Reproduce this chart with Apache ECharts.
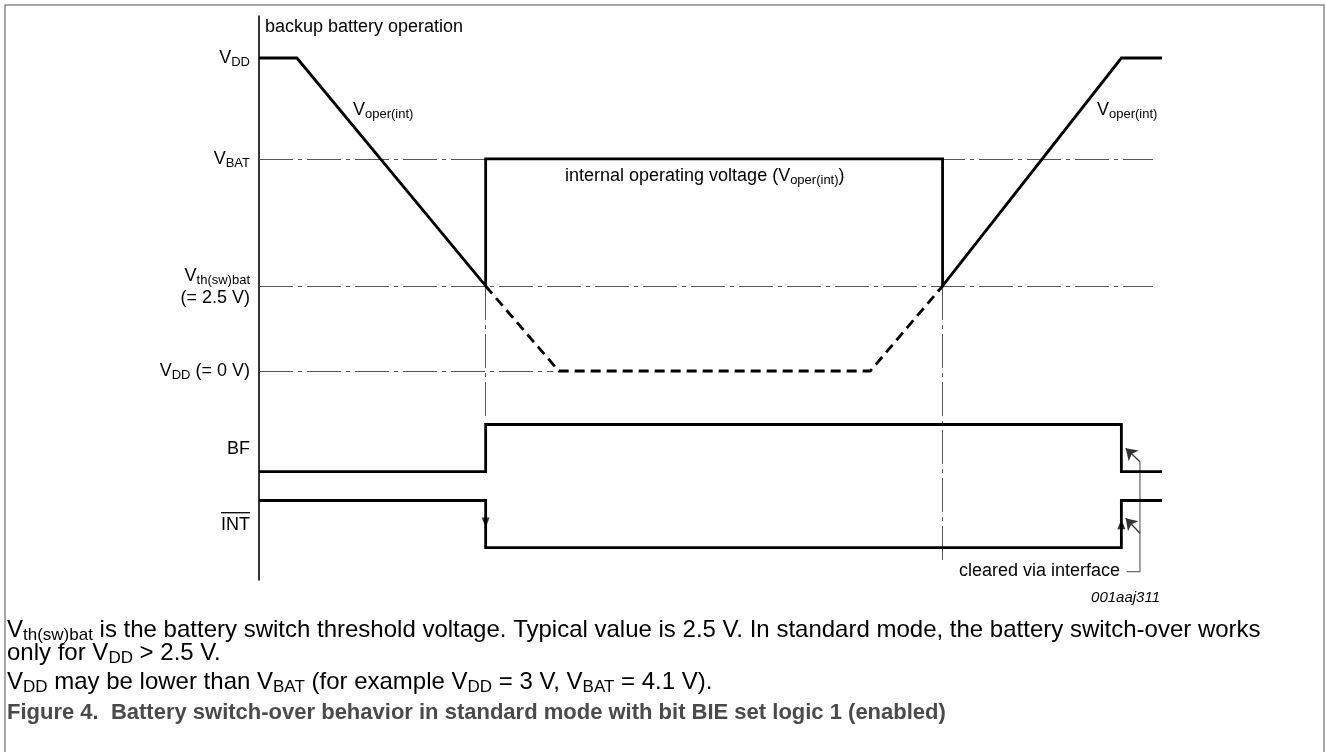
<!DOCTYPE html>
<html><head><meta charset="utf-8">
<script src="https://cdn.jsdelivr.net/npm/echarts@6/dist/echarts.min.js"></script>
<style>html,body{margin:0;padding:0;background:#fff}#c{width:1326px;height:752px}</style>
</head><body><div id="c"></div>
<script>
// ---------------- data ----------------
// y-axis tick labels (level positions in schematic level units 0..100)
const labelLevels = [92.55, 74.65, 52.0, 37.06, 23.3, 9.98];
const labelTexts = ['{v|V}{s|DD}', '{v|V}{s|BAT}', '{v|V}{s|th(sw)bat}\n{v|(= 2.5 V)}', '{v|V}{s|DD}{v| (= 0 V)}', '{v|BF}', '{ol|}\n{v|INT}'];
// internal operating voltage V_oper(int) (solid)
const operTime  = [0, 4.2, 25.1, 25.1, 75.7, 75.7, 95.5, 100];
const operLevel = [92.55, 92.55, 52.13, 74.65, 74.65, 52.13, 92.55, 92.55];
// V_DD below threshold (dashed)
const vddTime  = [25.1, 33.2, 67.7, 75.7];
const vddLevel = [52.13, 37.06, 37.06, 52.13];
// BF flag
const bfTime  = [0, 25.1, 25.1, 95.5, 95.5, 100];
const bfLevel = [19.2, 19.2, 27.57, 27.57, 19.2, 19.2];
// INT (active low)
const intTime  = [0, 25.1, 25.1, 95.5, 95.5, 100];
const intLevel = [14.1, 14.1, 5.73, 5.73, 14.1, 14.1];
// dash-dot reference lines
const refHLevel = [74.65, 52.13, 37.06];
const refHEnd   = [99.0, 99.0, 32.6];
const refVTime  = [25.1, 75.7];
const refVEnd   = [28.7, 3.55];
// edge arrows on INT
const edgeArrowTime  = [25.1, 95.5];
const edgeArrowLevel = [10.2, 9.9];
const edgeArrowRot   = [180, 0];
// "cleared via interface" leader
const leaderTime  = [96.1, 97.56, 97.56];
const leaderLevel = [1.47, 1.47, 20.97];
const pointerFromTime = [97.56, 97.56];
const pointerFromLevel = [20.97, 8.28];
const pointerToTime = [95.98, 95.98];
const pointerToLevel = [23.35, 10.94];

// ---------------- chart ----------------
const F = '"Liberation Sans", Arial, Helvetica, sans-serif';
const zip = (a, b) => a.map((x, i) => [x, b[i]]);
const chart = echarts.init(document.getElementById('c'), null, {renderer: 'canvas'});

function gRich(size, sub, color, weight) {
  return {
    n: {fill: color, fontSize: size, fontFamily: F, lineHeight: size + 4, fontWeight: weight},
    s: {fill: color, fontSize: sub, fontFamily: F, lineHeight: Math.round(sub * 0.92), verticalAlign: 'bottom', fontWeight: weight}
  };
}
function gText(x, y, text, opts) {
  opts = opts || {};
  const size = opts.size || 18, sub = opts.sub || 13;
  return {
    type: 'text', x: x, y: y, scaleX: opts.scaleX || 1, silent: true,
    style: {
      text: text, align: opts.align || 'left', verticalAlign: 'middle',
      fill: opts.color || '#000', fontSize: size, fontFamily: F,
      fontStyle: opts.italic ? 'italic' : 'normal', fontWeight: opts.weight || 'normal',
      rich: gRich(size, sub, opts.color || '#000', opts.weight || 'normal')
    }
  };
}

const option = {
  animation: false,
  backgroundColor: '#fff',
  grid: {left: 259, top: 16, right: 164, bottom: 172, containLabel: false},
  xAxis: {type: 'value', min: 0, max: 100, show: false},
  yAxis: {
    type: 'value', min: 0, max: 100,
    splitLine: {show: false}, axisTick: {show: false},
    axisLine: {show: true, onZero: false, lineStyle: {color: '#000', width: 1.6}},
    axisLabel: {
      customValues: labelLevels, margin: 9, color: '#000', fontFamily: F, fontSize: 18,
      formatter: function (v) { const i = labelLevels.indexOf(v); return i >= 0 ? labelTexts[i] : ''; },
      rich: {
        v: {color: '#000', fontSize: 18, fontFamily: F, lineHeight: 22},
        s: {color: '#000', fontSize: 13, fontFamily: F, lineHeight: 12, verticalAlign: 'bottom'},
        ol: {width: 29, height: 1.3, lineHeight: 2, backgroundColor: '#000'}
      }
    }
  },
  series: [
    {
      type: 'lines', coordinateSystem: 'cartesian2d', z: 1, silent: true,
      lineStyle: {color: '#555', width: 1, type: [34, 5, 4, 5], opacity: 1},
      data: refHLevel.map((y, i) => ({coords: [[0, y], [refHEnd[i], y]]}))
        .concat(refVTime.map((x, i) => ({coords: [[x, refHLevel[1]], [x, refVEnd[i]]]})))
    },
    {
      type: 'line', z: 3, silent: true, symbol: 'none', data: zip(vddTime, vddLevel),
      lineStyle: {color: '#000', width: 2.8, type: [10, 6], cap: 'butt'}
    },
    {
      type: 'line', z: 4, silent: true, symbol: 'none', data: zip(operTime, operLevel),
      lineStyle: {color: '#000', width: 2.8, join: 'miter', cap: 'butt'}
    },
    {
      type: 'line', z: 4, silent: true, symbol: 'none', data: zip(bfTime, bfLevel),
      lineStyle: {color: '#000', width: 2.8, join: 'miter', cap: 'butt'}
    },
    {
      type: 'line', z: 4, silent: true, symbol: 'none', data: zip(intTime, intLevel),
      lineStyle: {color: '#000', width: 2.8, join: 'miter', cap: 'butt'}
    },
    {
      type: 'scatter', z: 5, silent: true, symbol: 'triangle', symbolSize: [8, 10],
      itemStyle: {color: '#000'},
      data: edgeArrowTime.map((x, i) => ({value: [x, edgeArrowLevel[i]], symbolRotate: edgeArrowRot[i]}))
    },
    {
      type: 'lines', coordinateSystem: 'cartesian2d', polyline: true, z: 2, silent: true,
      lineStyle: {color: '#6e6e6e', width: 1.3, opacity: 1},
      data: [{coords: zip(leaderTime, leaderLevel)}]
    },
    {
      type: 'lines', coordinateSystem: 'cartesian2d', z: 2, silent: true,
      symbol: ['none', 'arrow'], symbolSize: 11,
      lineStyle: {color: '#333', width: 1.3, opacity: 1},
      data: pointerFromTime.map((x, i) => ({coords: [[x, pointerFromLevel[i]], [pointerToTime[i], pointerToLevel[i]]]}))
    }
  ],
  graphic: [
    {type: 'rect', silent: true, shape: {x: 5, y: 5, width: 1319, height: 800},
     style: {fill: 'none', stroke: '#8a8a8a', lineWidth: 1.5}},
    gText(265, 27, '{n|backup battery operation}'),
    gText(353, 110, '{n|V}{s|oper(int)}'),
    gText(1097, 110, '{n|V}{s|oper(int)}'),
    gText(565, 176, '{n|internal operating voltage (V}{s|oper(int)}{n|)}'),
    gText(1120, 571, '{n|cleared via interface}', {align: 'right'}),
    gText(1160, 598, '001aaj311', {size: 15, italic: true, align: 'right'}),
    gText(7, 630, '{n|V}{s|th(sw)bat}{n| is the battery switch threshold voltage. Typical value is 2.5 V. In standard mode, the battery switch-over works}', {size: 24, sub: 17}),
    gText(7, 653, '{n|only for V}{s|DD}{n| > 2.5 V.}', {size: 24, sub: 17}),
    gText(7, 682, '{n|V}{s|DD}{n| may be lower than V}{s|BAT}{n| (for example V}{s|DD}{n| = 3 V, V}{s|BAT}{n| = 4.1 V).}', {size: 24, sub: 17}),
    gText(7, 713, '{n|Figure 4.  Battery switch-over behavior in standard mode with bit BIE set logic 1 (enabled)}', {size: 22, sub: 16, weight: 'bold', color: '#4a4a4a'})
  ]
};
chart.setOption(option);
</script></body></html>
